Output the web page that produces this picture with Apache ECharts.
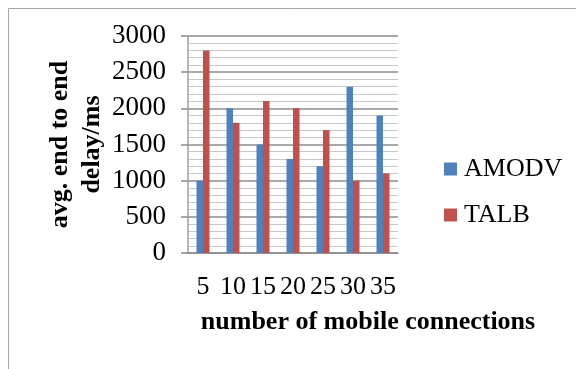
<!DOCTYPE html>
<html>
<head>
<meta charset="utf-8">
<script src="https://cdn.jsdelivr.net/npm/echarts@6/dist/echarts.min.js"></script>
<style>
  html, body { margin: 0; padding: 0; background: #fff; }
  #chart { width: 576px; height: 369px; }
</style>
</head>
<body>
<div id="chart"></div>
<script>
var categories = ['5', '10', '15', '20', '25', '30', '35']
var amodv = [1000, 2000, 1500, 1300, 1200, 2300, 1900]
var talb = [2800, 1800, 2100, 2000, 1700, 1000, 1100]
var seriesNames = ['AMODV', 'TALB']

var serif = '"Liberation Serif", "Times New Roman", serif'

var chart = echarts.init(document.getElementById('chart'))
chart.setOption({
  animation: false,
  color: ['#4F81BD', '#C0504D'],
  graphic: [
    {
      type: 'rect',
      shape: { x: 8.5, y: 8.5, width: 620, height: 420 },
      style: { fill: 'none', stroke: '#a6a6a6', lineWidth: 1 },
      silent: true
    }
  ],
  legend: {
    orient: 'vertical',
    left: 439,
    top: 151,
    itemWidth: 13,
    itemHeight: 13,
    itemGap: 20,
    icon: 'rect',
    textStyle: {
      fontFamily: serif,
      fontSize: 26,
      color: '#000',
      padding: [0, 0, 0, 2]
    },
    data: seriesNames
  },
  grid: {
    left: 188,
    right: 178,
    top: 36,
    bottom: 116
  },
  xAxis: {
    type: 'category',
    data: categories,
    name: 'number of mobile connections',
    nameLocation: 'middle',
    nameGap: 56,
    nameTextStyle: {
      fontFamily: serif,
      fontSize: 26,
      fontWeight: 'bold',
      color: '#000',
      padding: [0, 0, 0, 150]
    },
    axisLine: { lineStyle: { color: '#8c8c8c', width: 1.5 } },
    axisTick: { show: false },
    axisLabel: {
      fontFamily: serif,
      fontSize: 26,
      color: '#000',
      margin: 21,
      interval: 0
    }
  },
  yAxis: {
    type: 'value',
    min: 0,
    max: 3000,
    interval: 500,
    name: 'avg. end to end\ndelay/ms',
    nameLocation: 'middle',
    nameRotate: 90,
    nameGap: 76,
    nameTextStyle: {
      fontFamily: serif,
      fontSize: 26,
      fontWeight: 'bold',
      color: '#000',
      lineHeight: 32
    },
    axisLine: { show: true, lineStyle: { color: '#a0a0a0', width: 1.5 } },
    axisTick: { show: true, length: 7, lineStyle: { color: '#8c8c8c', width: 1.5 } },
    axisLabel: {
      formatter: function (v) { return String(v) },
      fontFamily: serif,
      fontSize: 27,
      color: '#000',
      margin: 22
    },
    splitLine: { lineStyle: { color: '#8c8c8c', width: 1.5 } },
    minorTick: { show: false, splitNumber: 5 },
    minorSplitLine: { show: true, lineStyle: { color: '#c8c8c8', width: 1.2 } }
  },
  series: [
    {
      name: seriesNames[0],
      type: 'bar',
      data: amodv,
      barWidth: 6.5,
      barGap: '0%'
    },
    {
      name: seriesNames[1],
      type: 'bar',
      data: talb,
      barWidth: 6.5,
      barGap: '0%'
    }
  ]
})
</script>
</body>
</html>
